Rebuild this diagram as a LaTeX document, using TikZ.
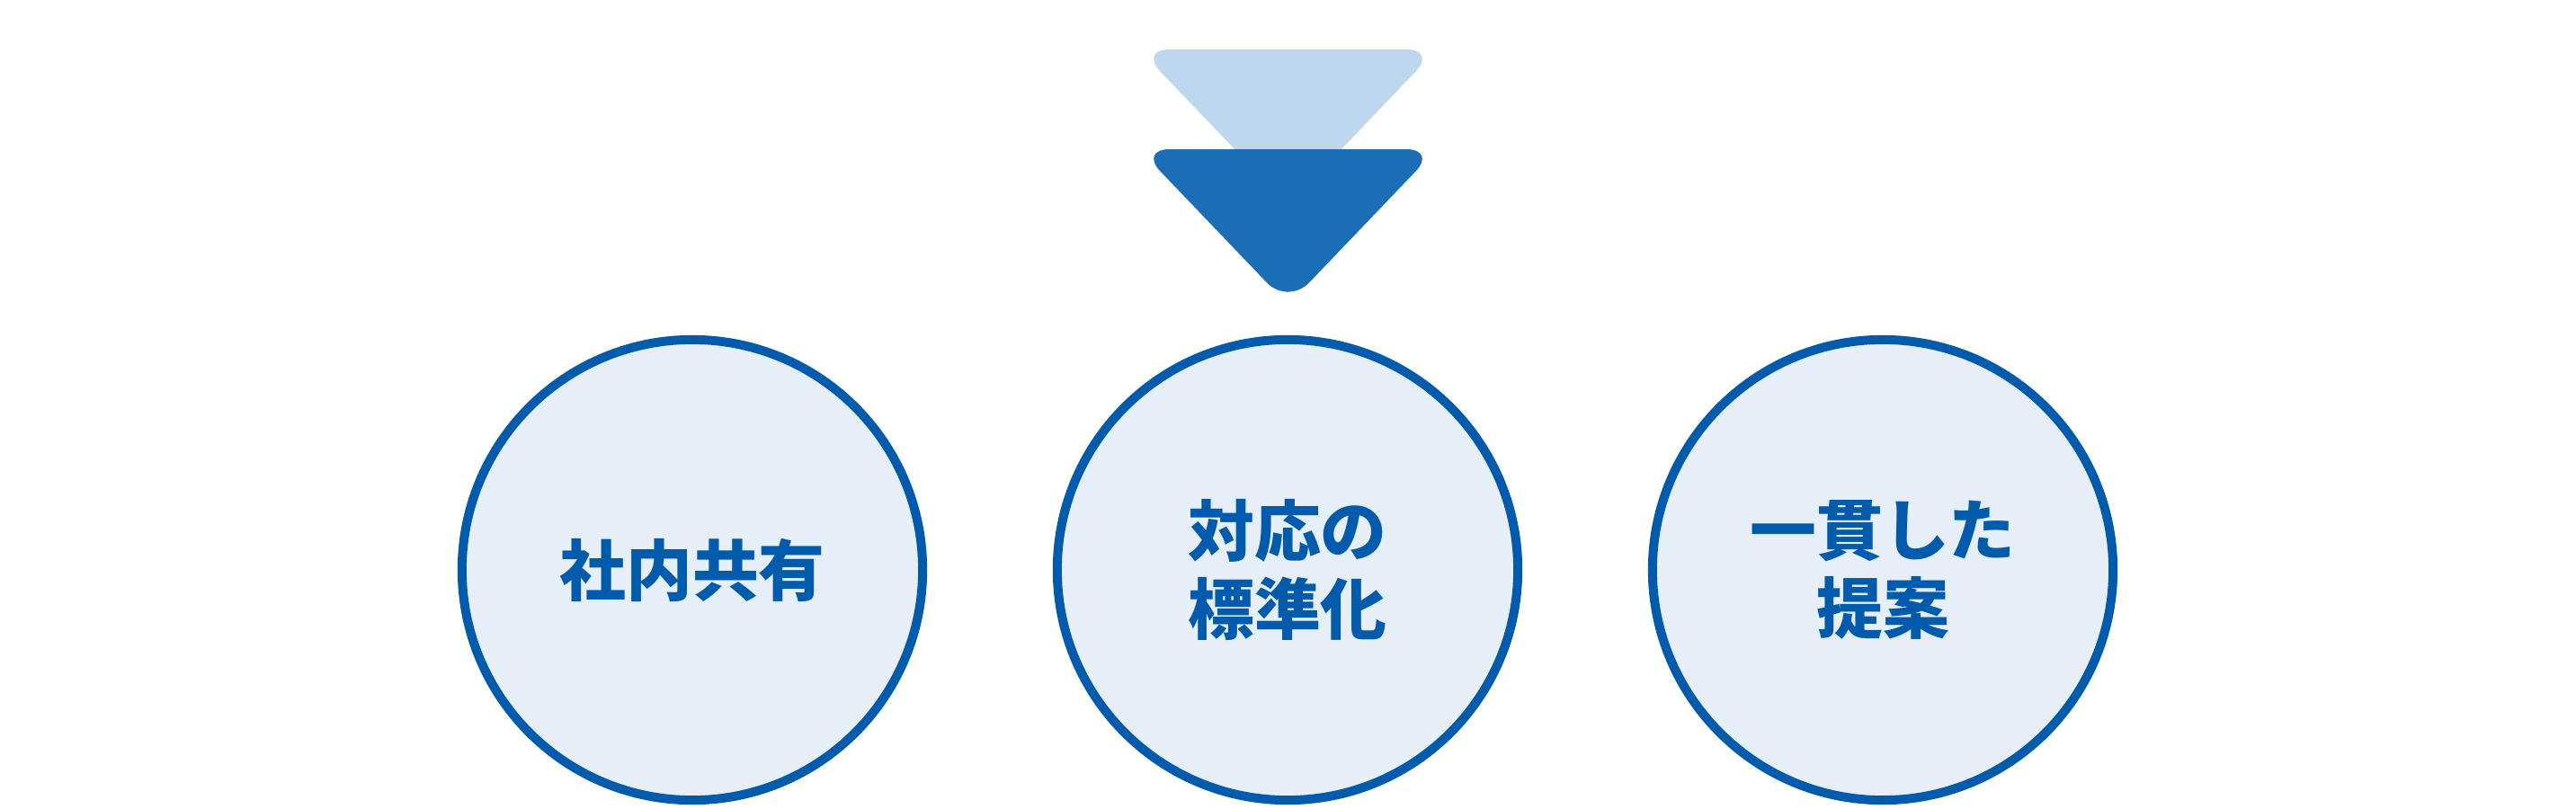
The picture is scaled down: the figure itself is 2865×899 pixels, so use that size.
\documentclass[tikz,border=0pt]{standalone}
\usepackage{fontspec}
\setmainfont{Noto Sans CJK JP}
\definecolor{ringblue}{HTML}{005BAC}
\definecolor{ringfill}{HTML}{E6EEF8}
\definecolor{arrowdark}{HTML}{1B6DB5}
\definecolor{arrowlight}{HTML}{BDD7EE}
\begin{document}
\begin{tikzpicture}[x=0.01cm,y=-0.01cm,
  stage/.style={circle, draw=ringblue, fill=ringfill, line width=0.1cm,
    minimum size=5.12cm, inner sep=0pt, text=ringblue, align=center,
    font=\bfseries\fontsize{21}{24.75}\selectfont},
  chevron/.style={rounded corners=0.34cm}]
\useasboundingbox (0,0) rectangle (2865,899);
% chevrons
\fill[arrowlight, chevron] (1267,55) -- (1598,55) -- (1432.5,228) -- cycle;
\fill[arrowdark, chevron] (1267,166) -- (1598,166) -- (1432.5,339) -- cycle;
% stages
\node[stage] (share) at (770,634) {社内共有};
\node[stage] (standard) at (1432,634) {対応の\\標準化};
\node[stage] (propose) at (2094,634) {一貫した\\提案};
\end{tikzpicture}
\end{document}
